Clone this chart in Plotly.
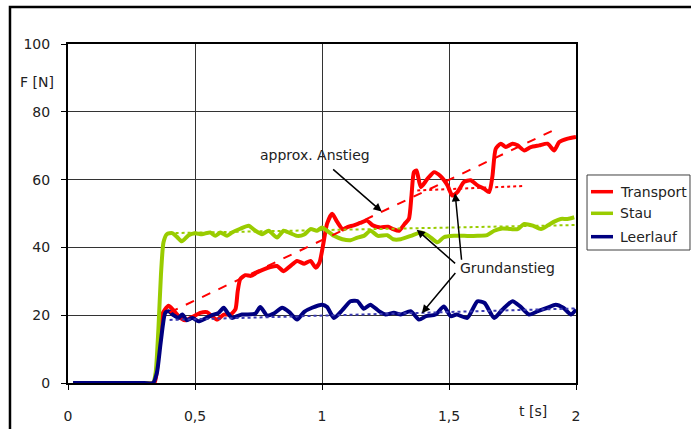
import plotly.graph_objects as go

# ---- data ----
t_transport = [0.02,0.1,0.2,0.3,0.34,0.355,0.37,0.382,0.396,0.415,0.442,0.462,0.49,0.521,0.547,0.567,0.587,0.613,0.639,0.659,0.668,0.678,0.698,0.72,0.744,0.771,0.797,0.823,0.849,0.875,0.902,0.93,0.955,0.975,0.99,1.005,1.02,1.04,1.06,1.082,1.1,1.125,1.15,1.177,1.2,1.23,1.26,1.28,1.303,1.325,1.342,1.352,1.362,1.372,1.389,1.415,1.441,1.467,1.494,1.513,1.533,1.559,1.585,1.612,1.638,1.658,1.671,1.684,1.704,1.724,1.75,1.77,1.796,1.822,1.855,1.888,1.914,1.934,1.967,2.0]
f_transport = [0,0,0,0,0,8,20,21.7,22.8,21.5,19.2,18.5,19.5,20.7,20.9,19.7,18.7,20.2,20.2,21.7,27,30.6,31.8,31.6,32.6,33.5,34.2,34.5,33.0,34.5,36.0,35.2,36.0,34.0,35.5,41,47,49.9,47.5,45.3,46,46.5,47.2,47.9,46.5,45.9,46.1,45.4,44.9,46.9,48.4,55,62.2,62.7,57.8,60.2,62.2,61.0,58.3,55.3,56.3,59.3,59.8,58.3,57.3,56.3,61,69.1,70.6,69.6,70.6,70.1,68.6,69.6,70.1,70.6,68.6,71.1,72.1,72.6]

t_stau = [0.02,0.1,0.2,0.3,0.335,0.345,0.356,0.366,0.376,0.389,0.41,0.429,0.448,0.475,0.5,0.527,0.56,0.58,0.6,0.626,0.646,0.678,0.711,0.738,0.764,0.79,0.823,0.849,0.875,0.902,0.93,0.955,0.98,1.0,1.02,1.047,1.08,1.112,1.14,1.165,1.191,1.22,1.257,1.28,1.31,1.35,1.389,1.42,1.454,1.48,1.52,1.56,1.612,1.65,1.678,1.71,1.744,1.77,1.796,1.83,1.862,1.89,1.914,1.94,1.967,1.993]
f_stau = [0,0,0,0,0,3,16,32,41.5,43.9,44.2,43.1,41.8,43.6,44.2,43.9,44.4,43.4,44.4,43.4,44.4,45.5,46.4,44.9,43.9,44.9,42.9,44.9,44.2,43.4,43.8,45.4,44.9,45.9,44.9,43.4,42.4,42.1,42.9,43.4,44.9,43.4,43.6,42.4,42.4,43.4,44.4,43.4,41.5,43.0,43.4,43.4,43.4,43.6,44.9,45.6,45.4,45.4,46.9,46.4,45.4,46.5,47.6,48.4,48.4,48.9]

t_leerlauf = [0.02,0.1,0.2,0.3,0.335,0.35,0.365,0.383,0.396,0.415,0.435,0.45,0.468,0.49,0.514,0.54,0.567,0.593,0.613,0.63,0.646,0.665,0.685,0.705,0.738,0.757,0.784,0.81,0.843,0.87,0.902,0.93,0.961,1.0,1.02,1.047,1.08,1.112,1.139,1.165,1.19,1.224,1.25,1.283,1.31,1.349,1.382,1.41,1.447,1.48,1.507,1.53,1.572,1.612,1.64,1.678,1.711,1.75,1.78,1.815,1.85,1.888,1.92,1.95,1.98,2.0]
f_leerlauf = [0,0,0,0,0,3,12,20.7,21.2,20.0,19.2,20.2,18.5,19.2,18.2,19.0,20.0,20.7,22.2,20.5,19.2,19.7,20.2,20.2,20.5,22.4,19.9,20.5,22.2,21.0,18.7,21.0,22.2,23.1,22.4,19.2,21.5,24.1,24.2,21.9,23.1,21.2,20.2,20.7,20.2,21.2,18.7,19.7,20.2,22.6,19.7,20.2,19.2,24.1,23.6,19.2,21.7,24.1,22.6,20.2,21.2,22.2,23.1,22.2,20.2,21.7]

# trend lines
t_approx = [0.40, 1.935]
f_approx = [20.8, 75.4]
t_trend_transport = [1.375, 1.796]
f_trend_transport = [56.8, 58.1]
t_trend_stau = [0.40, 2.0]
f_trend_stau = [44.2, 46.6]
t_trend_leerlauf = [0.40, 2.0]
f_trend_leerlauf = [18.6, 22.0]

series_names = ["Transport", "Stau", "Leerlauf"]
x_tickvals = [0, 0.5, 1, 1.5, 2]
x_ticktext = ["0", "0,5", "1", "1,5", "2"]
y_tickvals = [0, 20, 40, 60, 80, 100]

RED = "#FF0000"
GREEN = "#99CC00"
NAVY = "#000080"
COLORS = [RED, GREEN, NAVY]
FONT = "DejaVu Sans"
TXT = "#222222"

fig = go.Figure()
line_shape = dict(shape="spline", smoothing=0.6)
for name, tx, fy, col in zip(series_names, [t_transport, t_stau, t_leerlauf],
                             [f_transport, f_stau, f_leerlauf], COLORS):
    fig.add_trace(go.Scatter(x=tx, y=fy, mode="lines", name=name, showlegend=False,
                             line=dict(color=col, width=4, **line_shape)))

fig.add_trace(go.Scatter(x=t_approx, y=f_approx, mode="lines", showlegend=False,
                         line=dict(color=RED, width=2, dash="dash")))
fig.add_trace(go.Scatter(x=t_trend_transport, y=f_trend_transport, mode="lines", showlegend=False,
                         line=dict(color=RED, width=2, dash="dot")))
fig.add_trace(go.Scatter(x=t_trend_stau, y=f_trend_stau, mode="lines", showlegend=False,
                         line=dict(color=GREEN, width=2, dash="dot")))
fig.add_trace(go.Scatter(x=t_trend_leerlauf, y=f_trend_leerlauf, mode="lines", showlegend=False,
                         line=dict(color="#3a3ab0", width=2, dash="dot")))

ann = []
arrow = dict(showarrow=True, arrowhead=2, arrowsize=1.1, arrowwidth=1.5, arrowcolor="black",
             xref="x", yref="y", axref="x", ayref="y", text="")
ann.append(dict(x=1.235, y=50.6, ax=1.038, ay=63.4, **arrow))
ann.append(dict(x=1.373, y=45.2, ax=1.530, ay=34.9, **arrow))
ann.append(dict(x=1.524, y=56.0, ax=1.550, ay=35.9, **arrow))
ann.append(dict(x=1.393, y=20.6, ax=1.530, ay=32.9, **arrow))
txtfont = dict(family=FONT, size=14, color=TXT)
ann.append(dict(x=0.972, y=67.4, xref="x", yref="y", text="approx. Anstieg", showarrow=False,
                font=txtfont))
ann.append(dict(x=1.732, y=34.0, xref="x", yref="y", text="Grundanstieg", showarrow=False,
                font=txtfont))
ann.append(dict(x=1.83, y=-0.082, xref="x", yref="paper", text="t [s]", showarrow=False,
                xanchor="center", yanchor="middle", font=txtfont))
ann.append(dict(x=-0.061, y=0.889, xref="paper", yref="paper", text="F [N]", showarrow=False,
                xanchor="center", yanchor="middle", font=txtfont))

# legend (drawn manually to match the compact original)
shapes = [dict(type="rect", xref="paper", yref="paper",
               x0=-0.1142, x1=1.3, y0=-0.2, y1=1.1095,
               line=dict(color="black", width=2.5)),
          dict(type="rect", xref="paper", yref="paper",
               x0=1.0217, x1=1.2244, y0=0.3923, y1=0.6136,
               line=dict(color="#404040", width=1), fillcolor="white")]
legend_rows = [0.5643, 0.5006, 0.4316]
for name, col, yr in zip(series_names, COLORS, legend_rows):
    shapes.append(dict(type="line", xref="paper", yref="paper",
                       x0=1.0295, x1=1.0728, y0=yr, y1=yr,
                       line=dict(color=col, width=3.5)))
    ann.append(dict(x=1.0827, y=yr, xref="paper", yref="paper", text=name, showarrow=False,
                    xanchor="left", yanchor="middle", font=txtfont))

fig.update_layout(
    width=691, height=429,
    margin=dict(l=68, r=115, t=44, b=46, autoexpand=False),
    paper_bgcolor="white", plot_bgcolor="white",
    font=dict(family=FONT, size=14, color=TXT),
    annotations=ann,
    shapes=shapes,
    showlegend=False,
)
fig.update_xaxes(range=[0, 2], tickvals=x_tickvals, ticktext=x_ticktext,
                 showgrid=True, gridcolor="#333333", gridwidth=1,
                 showline=True, linecolor="black", linewidth=2, mirror=True,
                 ticks="outside", ticklen=5, tickcolor="black", zeroline=False,
                 ticklabelstandoff=14, automargin=False)
fig.update_yaxes(range=[0, 100], tickvals=y_tickvals,
                 showgrid=True, gridcolor="#333333", gridwidth=1,
                 showline=True, linecolor="black", linewidth=2, mirror=True,
                 ticks="outside", ticklen=5, tickcolor="black", zeroline=False,
                 ticklabelstandoff=8, automargin=False)

fig.write_html("out.html", config={"displayModeBar": False},
               post_script="document.body.style.margin='0';")
